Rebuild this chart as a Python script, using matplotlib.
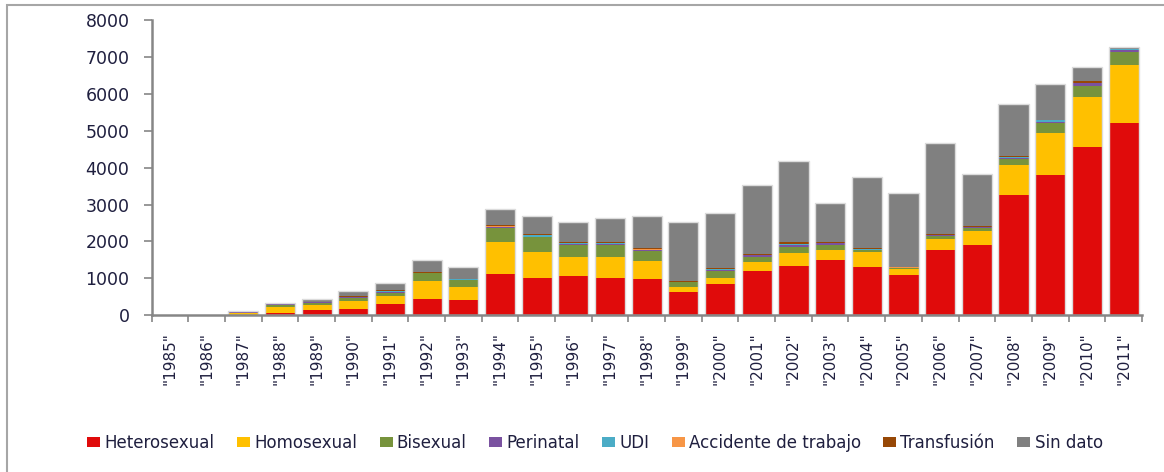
import numpy as np
import matplotlib
matplotlib.use('Agg')
import matplotlib.pyplot as plt
from matplotlib.patches import Rectangle

# Years shown on the x axis (labels keep the quotes from the original)
years = ['1985', '1986', '1987', '1988', '1989', '1990', '1991', '1992', '1993',
         '1994', '1995', '1996', '1997', '1998', '1999', '2000', '2001', '2002',
         '2003', '2004', '2005', '2006', '2007', '2008', '2009', '2010', '2011']

# Cases per transmission route
heterosexual = [0, 0, 10, 55, 143, 180, 315, 442, 406, 1110, 1019, 1056, 1019, 975,
                623, 848, 1200, 1327, 1498, 1317, 1100, 1769, 1896, 3267, 3793, 4551, 5201]
homosexual = [0, 0, 50, 175, 137, 215, 215, 488, 352, 867, 704, 532, 569, 488,
              135, 162, 253, 361, 271, 406, 146, 306, 396, 797, 1146, 1355, 1588]
bisexual = [0, 0, 15, 40, 45, 65, 82, 208, 198, 400, 406, 308, 308, 271,
            136, 182, 127, 154, 127, 46, 36, 82, 81, 162, 270, 306, 352]
perinatal = [0, 0, 20, 25, 30, 40, 30, 10, 10, 15, 5, 40, 45, 36,
             10, 44, 45, 70, 50, 10, 5, 10, 10, 25, 40, 73, 40]
udi = [0, 0, 0, 0, 0, 5, 5, 5, 5, 5, 38, 10, 10, 10,
       5, 5, 10, 20, 10, 5, 5, 5, 5, 40, 40, 10, 25]
accidente = [0, 0, 0, 0, 0, 0, 0, 0, 10, 10, 10, 5, 5, 5,
             5, 5, 5, 5, 5, 5, 5, 5, 5, 5, 5, 10, 5]
transfusion = [0, 0, 5, 5, 5, 15, 25, 30, 15, 30, 34, 35, 35, 30,
               25, 27, 30, 40, 30, 26, 25, 30, 30, 10, 5, 52, 5]
sin_dato = [0, 0, 25, 40, 73, 147, 212, 315, 321, 444, 487, 533, 654, 875,
            1580, 1507, 1860, 2190, 1051, 1940, 1983, 2469, 1413, 1426, 959, 378, 61]

series = [
    ('Heterosexual', heterosexual, '#E00B0B'),
    ('Homosexual', homosexual, '#FFC000'),
    ('Bisexual', bisexual, '#77933C'),
    ('Perinatal', perinatal, '#7A52A0'),
    ('UDI', udi, '#4BACC6'),
    ('Accidente de trabajo', accidente, '#F79646'),
    ('Transfusión', transfusion, '#974806'),
    ('Sin dato', sin_dato, '#808080'),
]
text_color = '#1f1f3f'

fig = plt.figure(figsize=(11.64, 4.72), dpi=100)
ax = fig.add_axes([0.1303, 0.332, 0.8507, 0.6256])

# Outer chart frame (Excel style), runs off the right and bottom edges
fig.patches.append(Rectangle((7 / 1164, -0.05), 1.2, 1 - 5 / 472 + 0.05,
                             transform=fig.transFigure, fill=False,
                             edgecolor='#a6a6a6', linewidth=1.5))

x = np.arange(len(years))
bottom = np.zeros(len(years))
for name, vals, color in series:
    vals = np.array(vals, dtype=float)
    ax.bar(x, vals, 0.82, bottom=bottom, color=color, label=name, linewidth=0)
    bottom += vals

# light outline round each whole stack
ax.bar(x[bottom > 0], bottom[bottom > 0], 0.82, fill=False,
       edgecolor='#dcdcdc', linewidth=1.0)

ax.set_xlim(-0.5, len(years) - 0.5)
ax.set_ylim(0, 8000)
ax.set_yticks(np.arange(0, 8001, 1000))
ax.tick_params(axis='y', labelsize=12.5, labelcolor=text_color, color='#868686',
               length=6, width=1.2, pad=10)

# category labels in the middle, tick marks on the boundaries
ax.set_xticks(x)
ax.set_xticklabels(['"%s"' % y for y in years], rotation=90, fontsize=11,
                   color=text_color)
ax.tick_params(axis='x', length=0, pad=12)
ax.set_xticks(np.arange(-0.5, len(years), 1), minor=True)
ax.tick_params(axis='x', which='minor', length=5, width=1.2, color='#868686')

for side in ['top', 'right']:
    ax.spines[side].set_visible(False)
for side in ['left', 'bottom']:
    ax.spines[side].set_color('#868686')
    ax.spines[side].set_linewidth(1.8)

fig.legend(loc='center', bbox_to_anchor=(595 / 1164, 1 - 443 / 472), ncol=8,
           frameon=False, fontsize=12, handlelength=0.78, handleheight=0.54,
           handletextpad=0.25, columnspacing=1.35, labelcolor=text_color)

fig.savefig('out.png', dpi=100)
